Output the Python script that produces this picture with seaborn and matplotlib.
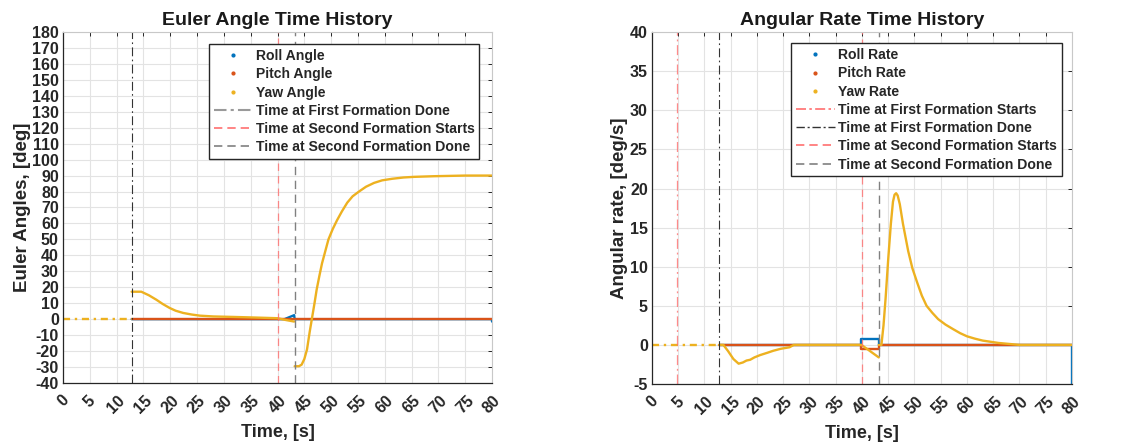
import numpy as np
import pandas as pd
import matplotlib
matplotlib.use("Agg")
import matplotlib.pyplot as plt
from matplotlib.lines import Line2D
import seaborn as sns

# ---------------- data ----------------
# Event times (s)
t_first_start = 4.8
t_first_done = 12.8
t_second_start = 40.0
t_second_done = 43.2

# Hold segment before the first formation finishes (sparse samples)
hold_t = [0.0, 12.8]
hold_v = [0.0, 0.0]

# Euler angles (deg)
roll_t = [12.8, 40.0, 41.3, 43.1, 43.2, 80.0, 80.0]
roll_v = [0.0, 0.0, 0.0, 2.5, 0.0, 0.0, -1.5]
pitch_t = [12.8, 80.0]
pitch_v = [0.0, 0.0]
yaw_a_t = [12.8, 14.6, 16.0, 17.4, 18.6, 19.9, 21.0, 22.4, 24.0, 25.5, 28.0,
           31.7, 35.0, 38.0, 40.0, 41.5, 43.1]
yaw_a_v = [17.2, 17.2, 15.0, 12.2, 9.5, 7.0, 5.3, 3.9, 2.9, 2.2, 1.7,
           1.4, 1.1, 0.8, 0.6, -0.5, -1.5]
yaw_b_t = [43.2, 44.0, 44.5, 45.0, 45.5, 46.0, 46.4, 46.9, 47.3, 47.8, 48.3,
           49.5, 50.3, 51.1, 52.0, 53.0, 54.0, 55.2, 56.5, 58.0, 59.5, 61.4,
           63.5, 65.5, 69.2, 75.0, 80.0]
yaw_b_v = [-29.5, -29.5, -28.5, -25.0, -19.0, -8.0, 0.0, 10.0, 18.5, 27.0, 35.0,
           50.0, 56.5, 62.0, 67.5, 73.0, 77.0, 80.0, 83.0, 85.4, 87.0, 88.0,
           88.8, 89.2, 89.6, 90.0, 90.0]

# Angular rates (deg/s)
p_t = [12.8, 39.9, 39.9, 43.2, 43.2, 80.0, 80.0]
p_v = [0.0, 0.0, 0.75, 0.75, 0.0, 0.0, -5.0]
q_t = [12.8, 39.9, 39.9, 43.2, 43.2, 80.0]
q_v = [0.0, 0.0, -0.5, -0.5, 0.0, 0.0]
r_a_t = [12.8, 13.6, 14.5, 15.5, 16.5, 17.3, 18.0, 18.7, 19.5, 20.6, 22.0,
         23.1, 24.5, 26.2, 27.0, 39.9, 43.2]
r_a_v = [0.0, 0.0, -0.8, -1.8, -2.4, -2.25, -2.0, -1.9, -1.6, -1.3, -1.0,
         -0.75, -0.5, -0.3, 0.0, 0.0, -1.6]
r_b_t = [43.2, 43.7, 44.1, 44.5, 45.0, 45.5, 45.9, 46.2, 46.5, 46.8, 47.2,
         47.8, 48.8, 49.6, 50.5, 51.4, 52.3, 53.4, 54.5, 55.9, 57.4, 58.7,
         60.0, 61.5, 63.0, 66.0, 70.0, 80.0]
r_b_v = [0.0, 0.0, 2.5, 6.0, 11.0, 15.5, 18.3, 19.2, 19.4, 19.1, 18.0,
         15.5, 12.0, 9.8, 8.0, 6.3, 5.0, 4.1, 3.3, 2.6, 2.0, 1.5,
         1.1, 0.8, 0.55, 0.25, 0.0, 0.0]

x_ticks = list(range(0, 81, 5))
angle_ticks = list(range(-40, 181, 10))
rate_ticks = list(range(-5, 41, 5))

# ---------------- style ----------------
sns.set_theme(style="white")
plt.rcParams["font.family"] = ["Liberation Sans", "DejaVu Sans"]
plt.rcParams["font.weight"] = "bold"
plt.rcParams["axes.unicode_minus"] = False

C_ROLL = "#0072BD"
C_PITCH = "#D95319"
C_YAW = "#EDB120"
C_RED = "#ff6f6f"
C_BLACK = "#333333"
C_GRAY = "#808080"

fig = plt.figure(figsize=(11.29, 4.46), dpi=100)
ax1 = fig.add_axes([0.0558, 0.1413, 0.380, 0.787])
ax2 = fig.add_axes([0.5775, 0.139, 0.372, 0.789])


def draw(ax, t, v, color, **kw):
    df = pd.DataFrame({"t": t, "v": v})
    sns.lineplot(data=df, x="t", y="v", ax=ax, color=color, sort=False,
                 estimator=None, linewidth=1.7, legend=False, **kw)


def style_axes(ax, yticks, ylim, ylabel, title):
    ax.set_xlim(0, 80)
    ax.set_ylim(*ylim)
    ax.set_xticks(x_ticks)
    ax.set_yticks(yticks)
    ax.grid(True, color="#e3e3e3", linewidth=0.8)
    ax.set_axisbelow(True)
    for s in ("left", "bottom"):
        ax.spines[s].set_color("#262626")
        ax.spines[s].set_linewidth(0.9)
    for s in ("top", "right"):
        ax.spines[s].set_color("#c8c8c8")
        ax.spines[s].set_linewidth(0.8)
    ax.tick_params(axis="both", direction="in", length=3, width=0.7,
                   color="#262626", labelsize=11.5, top=True, right=True)
    ax.tick_params(axis="x", pad=7)
    ax.tick_params(axis="y", pad=3)
    for lab in ax.get_xticklabels():
        lab.set_rotation(45)
        lab.set_ha("center")
        lab.set_va("top")
        lab.set_fontweight("bold")
    for lab in ax.get_yticklabels():
        lab.set_fontweight("bold")
    ax.set_xlabel("Time, [s]", fontsize=13, fontweight="bold", labelpad=6,
                  color="#262626")
    ax.set_ylabel(ylabel, fontsize=13.5, fontweight="bold", labelpad=1,
                  color="#262626")
    ax.set_title(title, fontsize=14, fontweight="bold", pad=5, color="#1a1a1a")


# ---- Euler angles ----
draw(ax1, roll_t, roll_v, C_ROLL)
draw(ax1, pitch_t, pitch_v, C_PITCH)
draw(ax1, hold_t, hold_v, C_YAW)
ax1.lines[-1].set_dashes([3, 2, 1, 2])
draw(ax1, yaw_a_t, yaw_a_v, C_YAW)
draw(ax1, yaw_b_t, yaw_b_v, C_YAW)
ax1.axvline(t_first_done, color=C_BLACK, lw=0.8, dashes=[8, 3, 1.5, 3])
ax1.axvline(t_second_start, color=C_RED, lw=0.9, alpha=0.8, dashes=[6, 4])
ax1.axvline(t_second_done, color=C_GRAY, lw=1.0, dashes=[6, 4])
style_axes(ax1, angle_ticks, (-40, 180), "Euler Angles, [deg]",
           "Euler Angle Time History")

# ---- Angular rates ----
draw(ax2, p_t, p_v, C_ROLL)
draw(ax2, q_t, q_v, C_PITCH)
draw(ax2, hold_t, hold_v, C_YAW)
ax2.lines[-1].set_dashes([3, 2, 1, 2])
draw(ax2, r_a_t, r_a_v, C_YAW)
draw(ax2, r_b_t, r_b_v, C_YAW)
ax2.axvline(t_first_start, color=C_RED, lw=0.9, alpha=0.8, dashes=[8, 3, 1.5, 3])
ax2.axvline(t_first_done, color=C_BLACK, lw=0.8, dashes=[8, 3, 1.5, 3])
ax2.axvline(t_second_start, color=C_RED, lw=0.9, alpha=0.8, dashes=[6, 4])
ax2.axvline(t_second_done, color=C_GRAY, lw=1.0, dashes=[6, 4])
style_axes(ax2, rate_ticks, (-5, 40), "Angular rate, [deg/s]",
           "Angular Rate Time History")


def marker_handle(color, label):
    return Line2D([], [], color=color, marker=".", linestyle="none",
                  markersize=4, label=label)


def line_handle(color, dashes, label, lw=1.0, alpha=1.0):
    return Line2D([], [], color=color, lw=lw, dashes=dashes, alpha=alpha,
                  label=label)


leg_kw = dict(loc="upper right", frameon=True, fancybox=False,
              framealpha=1, edgecolor="#262626", handlelength=2.8,
              handletextpad=0.2, labelspacing=0.3, borderpad=0.35,
              prop={"weight": "bold", "size": 10.1})

h1 = [marker_handle(C_ROLL, "Roll Angle"),
      marker_handle(C_PITCH, "Pitch Angle"),
      marker_handle(C_YAW, "Yaw Angle"),
      line_handle("#9a9a9a", [6, 2, 1.5, 2], "Time at First Formation Done", 1.5),
      line_handle(C_RED, [5, 3], "Time at Second Formation Starts", 1.2),
      line_handle(C_GRAY, [5, 3], "Time at Second Formation Done", 1.2)]
lg1 = ax1.legend(handles=h1, bbox_to_anchor=(0.987, 0.985), **leg_kw)
lg1.get_frame().set_linewidth(1.0)

h2 = [marker_handle(C_ROLL, "Roll Rate"),
      marker_handle(C_PITCH, "Pitch Rate"),
      marker_handle(C_YAW, "Yaw Rate"),
      line_handle(C_RED, [6, 2, 1.5, 2], "Time at First Formation Starts", 1.2),
      line_handle(C_BLACK, [6, 2, 1.5, 2], "Time at First Formation Done", 1.0),
      line_handle(C_RED, [5, 3], "Time at Second Formation Starts", 1.2),
      line_handle(C_GRAY, [5, 3], "Time at Second Formation Done", 1.2)]
lg2 = ax2.legend(handles=h2, bbox_to_anchor=(0.992, 0.988), **leg_kw)
lg2.get_frame().set_linewidth(1.0)

fig.savefig("out.png", dpi=100, facecolor="white")
